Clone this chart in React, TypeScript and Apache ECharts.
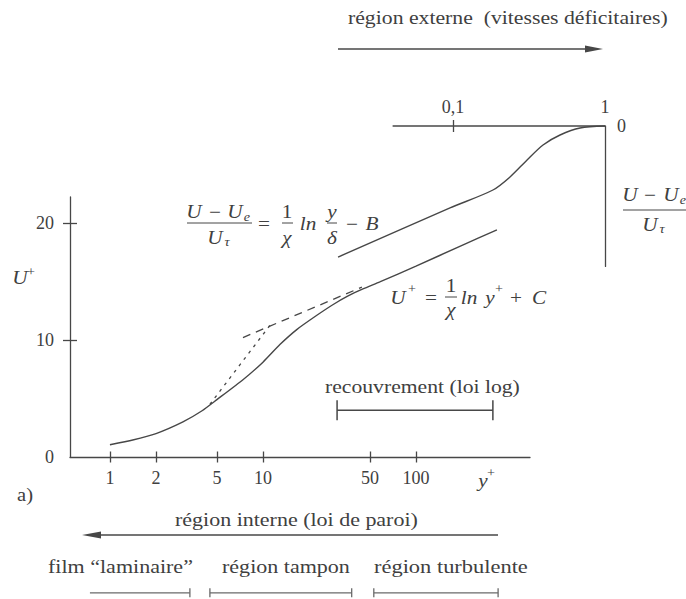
import React, { useEffect, useRef } from "react";
import * as echarts from "echarts";

// ---------- data ----------
// inner axis: y+ (log scale) vs U+
const xTickYPlus = [1, 2, 5, 10, 50, 100];
const yTickUPlus = [10, 20];
const yLabelUPlus = [0, 10, 20];

// measured velocity profile (solid curve)
const profileYPlus = [1, 1.41, 2, 3, 4, 5, 7.4, 10, 12.9, 16.7, 22.5, 28.6, 36, 45, 58, 100, 200, 338];
const profileUPlus = [1.05, 1.45, 2.0, 3.0, 3.95, 4.9, 6.6, 8.1, 9.6, 10.9, 12.1, 13.0, 13.75, 14.35, 14.95, 16.3, 18.07, 19.4];

// log law continued into the buffer region (dashed)
const logLawYPlus = [7.4, 44.3];
const logLawUPlus = [10.2, 14.5];

// viscous sublayer U+ = y+ (dotted)
const linearYPlus = [4.5, 11.5];
const linearUPlus = [4.5, 11.5];

// outer axis: y/delta (log scale) vs (U - Ue)/Utau
const outerAxisSpan = [0.04, 1];
const outerTickYDelta = [0.1];
const outerLabelYDelta = [0.1, 1];
const defectYDelta = [0.0175, 0.0955, 0.183, 0.237, 0.307, 0.391, 0.506, 0.685, 1.0];
const defectValue = [-11.2, -7.0, -5.47, -4.36, -2.9, -1.62, -0.77, -0.17, 0];

// ranges along y+
const overlapRange = [30.5, 318];
const filmRange = [0.74, 3.33];
const bufferRange = [4.5, 38];
const turbulentRange = [53, 344];

// ---------- styling ----------
const FONT = '"Liberation Serif", "Times New Roman", serif';
const INK = "#404040";
const LINE = "#474747";
const LIGHT = "#6a6a6a";
const lg = (v: number) => Math.log10(v);

let measureCtx: CanvasRenderingContext2D | null = null;
function measure(text: string, font: string) {
  if (!measureCtx) measureCtx = document.createElement("canvas").getContext("2d");
  if (!measureCtx) return text.length * 8;
  measureCtx.font = font;
  return measureCtx.measureText(text).width;
}

type LabelOpts = { size?: number; italic?: boolean; align?: string; width?: number; scaleX?: number; color?: string };
function label(text: string, x: number, y: number, o: LabelOpts = {}) {
  const size = o.size ?? 18;
  const fs = o.italic ? "italic" : "normal";
  let sx = o.scaleX ?? 1.18;
  let align = o.align ?? "center";
  if (o.width) {
    sx = o.width / measure(text, `${fs} ${size}px ${FONT}`);
    align = "left";
  }
  return {
    type: "text",
    x,
    y,
    scaleX: sx,
    silent: true,
    style: {
      text,
      fill: o.color ?? INK,
      fontSize: size,
      fontFamily: FONT,
      fontStyle: fs,
      align,
      verticalAlign: "middle",
      textAlign: align,
      textVerticalAlign: "middle",
    },
  };
}
function seg(x1: number, y1: number, x2: number, y2: number, w = 1.2, c = LINE) {
  return { type: "line", silent: true, shape: { x1, y1, x2, y2 }, style: { stroke: c, lineWidth: w } };
}
function tri(points: number[][]) {
  return { type: "polygon", silent: true, shape: { points }, style: { fill: LINE } };
}

const axisLineStyle = { color: LINE, width: 1.3 };
const labelStyle = { color: INK, fontFamily: FONT, fontSize: 18 };

function buildOption() {
  const pairs = (xs: number[], ys: number[]) => xs.map((v, i) => [lg(v), ys[i]]);
  const rangeBar = (r: number[], level: number, leftTick: boolean) => [
    leftTick ? [lg(r[0]), level] : { value: [lg(r[0]), level], symbol: "none" },
    [lg(r[1]), level],
  ];

  const graphic: any[] = [
    // top annotation
    label("région externe  (vitesses déficitaires)", 348, 18, { width: 320 }),
    seg(338, 49, 592, 49, 1.3),
    tri([[603, 49], [585, 45.5], [585, 52.5]]),
    // bottom annotations
    label("a)", 17, 495, { width: 16 }),
    label("région interne (loi de paroi)", 175, 520, { width: 243 }),
    seg(95, 535, 498, 535, 1.3),
    tri([[82, 535], [101, 531.5], [101, 538.5]]),
    label("film “laminaire”", 48, 567, { width: 145 }),
    label("région tampon", 222, 567, { width: 128 }),
    label("région turbulente", 374, 567, { width: 154 }),
    label("recouvrement (loi log)", 325, 387, { width: 195 }),
    // axis names
    label("U", 20, 278, { italic: true }),
    label("+", 31, 272, { size: 12 }),
    label("y", 483, 481, { italic: true }),
    label("+", 491, 473, { size: 12 }),
    // outer law equation
    label("U", 194, 212, { italic: true }),
    label("−", 215, 212),
    label("U", 235, 212, { italic: true }),
    label("e", 247, 217, { italic: true, size: 12 }),
    seg(187, 223, 252, 223, 1),
    label("U", 215, 238, { italic: true }),
    label("τ", 227, 242, { italic: true, size: 12 }),
    label("=", 264, 224),
    label("1", 287, 212),
    seg(282, 223, 293, 223, 1),
    label("χ", 287, 238, { italic: true }),
    label("ln", 308, 224, { italic: true }),
    label("y", 332, 212, { italic: true }),
    seg(327, 223, 337, 223, 1),
    label("δ", 332, 238, { italic: true }),
    label("−", 352, 224),
    label("B", 372, 224, { italic: true }),
    // inner law equation
    label("U", 398, 298, { italic: true }),
    label("+", 412, 289, { size: 12 }),
    label("=", 431, 298),
    label("1", 451, 286),
    seg(445, 297, 457, 297, 1),
    label("χ", 451, 310, { italic: true }),
    label("ln", 469, 298, { italic: true }),
    label("y", 490, 298, { italic: true }),
    label("+", 499, 289, { size: 12 }),
    label("+", 516, 298),
    label("C", 539, 298, { italic: true }),
    // right axis name
    label("U", 630, 195, { italic: true }),
    label("−", 650, 195),
    label("U", 671, 195, { italic: true }),
    label("e", 683, 200, { italic: true, size: 12 }),
    seg(623, 210, 687, 210, 1),
    label("U", 650, 225, { italic: true }),
    label("τ", 662, 229, { italic: true, size: 12 }),
  ];

  return {
    animation: false,
    backgroundColor: "#ffffff",
    grid: [
      { left: 70, top: 197, width: 460, height: 260 },
      { left: 330, top: 126, width: 275, height: 140.4 },
    ],
    xAxis: [
      {
        type: "value", gridIndex: 0, min: -0.261, max: 2.745, position: "bottom",
        axisLine: { show: true, onZero: false, lineStyle: axisLineStyle },
        axisTick: { show: true, length: 5.5, customValues: xTickYPlus.map(lg), lineStyle: axisLineStyle },
        axisLabel: {
          ...labelStyle, margin: 12, customValues: xTickYPlus.map(lg),
          formatter: (v: number) => String(Math.round(Math.pow(10, v))),
        },
        splitLine: { show: false },
      },
      {
        type: "value", gridIndex: 0, min: -0.261, max: 2.745, position: "bottom",
        axisLine: { show: false, onZero: false },
        axisTick: { show: true, inside: true, length: 5.5, customValues: xTickYPlus.map(lg), lineStyle: axisLineStyle },
        axisLabel: { show: false },
        splitLine: { show: false },
      },
      {
        type: "value", gridIndex: 1, min: -1.81, max: 0, position: "top",
        axisLine: { show: false, onZero: false },
        axisTick: { show: true, length: 6, customValues: outerTickYDelta.map(lg), lineStyle: axisLineStyle },
        axisLabel: {
          ...labelStyle, margin: 10, customValues: outerLabelYDelta.map(lg),
          formatter: (v: number) => (Math.abs(v + 1) < 1e-6 ? "0,1" : "1"),
        },
        splitLine: { show: false },
      },
      {
        type: "value", gridIndex: 1, min: -1.81, max: 0, position: "top",
        axisLine: { show: false, onZero: false },
        axisTick: { show: true, inside: true, length: 6, customValues: outerTickYDelta.map(lg), lineStyle: axisLineStyle },
        axisLabel: { show: false },
        splitLine: { show: false },
      },
    ],
    yAxis: [
      {
        type: "value", gridIndex: 0, min: 0, max: 22.2, position: "left",
        axisLine: { show: true, onZero: false, lineStyle: axisLineStyle },
        axisTick: { show: true, length: 7, customValues: yTickUPlus, lineStyle: axisLineStyle },
        axisLabel: { ...labelStyle, margin: 16, customValues: yLabelUPlus },
        splitLine: { show: false },
      },
      {
        type: "value", gridIndex: 0, min: 0, max: 22.2, position: "left",
        axisLine: { show: false, onZero: false },
        axisTick: { show: true, inside: true, length: 7, customValues: yTickUPlus, lineStyle: axisLineStyle },
        axisLabel: { show: false },
        splitLine: { show: false },
      },
      {
        type: "value", gridIndex: 1, min: -12, max: 0, position: "right",
        axisLine: { show: true, onZero: false, lineStyle: axisLineStyle },
        axisTick: { show: false },
        axisLabel: { ...labelStyle, margin: 12, customValues: [0], formatter: () => "0", padding: [10, 0, 0, 0] },
        splitLine: { show: false },
      },
    ],
    series: [
      {
        name: "profil", type: "line", xAxisIndex: 0, yAxisIndex: 0, smooth: 0.2, showSymbol: false,
        data: pairs(profileYPlus, profileUPlus), lineStyle: { color: LINE, width: 1.4 },
      },
      {
        name: "loi log", type: "line", xAxisIndex: 0, yAxisIndex: 0, showSymbol: false,
        data: pairs(logLawYPlus, logLawUPlus), lineStyle: { color: LINE, width: 1.3, type: [8, 6] },
      },
      {
        name: "sous-couche", type: "line", xAxisIndex: 0, yAxisIndex: 0, showSymbol: false,
        data: pairs(linearYPlus, linearUPlus), lineStyle: { color: LINE, width: 1.3, type: [3, 5] },
      },
      {
        name: "axe externe", type: "line", xAxisIndex: 2, yAxisIndex: 2, showSymbol: false, clip: false,
        data: outerAxisSpan.map((v) => [lg(v), 0]), lineStyle: { color: LINE, width: 1.3 },
      },
      {
        name: "déficit", type: "line", xAxisIndex: 2, yAxisIndex: 2, smooth: 0.3, showSymbol: false, clip: false,
        data: pairs(defectYDelta, defectValue), lineStyle: { color: LINE, width: 1.4 },
      },
      {
        name: "recouvrement", type: "line", xAxisIndex: 0, yAxisIndex: 0, clip: false,
        symbol: "rect", symbolSize: [1.5, 20], showSymbol: true, itemStyle: { color: LINE },
        data: rangeBar(overlapRange, 4.0, true), lineStyle: { color: LINE, width: 1.5 },
      },
      {
        name: "film", type: "line", xAxisIndex: 0, yAxisIndex: 0, clip: false,
        symbol: "rect", symbolSize: [1.3, 9], showSymbol: true, itemStyle: { color: LIGHT },
        data: rangeBar(filmRange, -11.6, false), lineStyle: { color: LIGHT, width: 1.2 },
      },
      {
        name: "tampon", type: "line", xAxisIndex: 0, yAxisIndex: 0, clip: false,
        symbol: "rect", symbolSize: [1.3, 9], showSymbol: true, itemStyle: { color: LIGHT },
        data: rangeBar(bufferRange, -11.6, true), lineStyle: { color: LIGHT, width: 1.2 },
      },
      {
        name: "turbulente", type: "line", xAxisIndex: 0, yAxisIndex: 0, clip: false,
        symbol: "rect", symbolSize: [1.3, 9], showSymbol: true, itemStyle: { color: LIGHT },
        data: rangeBar(turbulentRange, -11.6, true), lineStyle: { color: LIGHT, width: 1.2 },
      },
    ],
    graphic,
  };
}

export default function App() {
  const ref = useRef<HTMLDivElement>(null);
  useEffect(() => {
    if (!ref.current) return;
    const chart = echarts.init(ref.current, undefined, { renderer: "svg" });
    chart.setOption(buildOption() as any);
    return () => chart.dispose();
  }, []);
  return (
    <div
      ref={ref}
      style={{ position: "fixed", left: 0, top: 0, width: 686, height: 599, background: "#fff" }}
    />
  );
}
